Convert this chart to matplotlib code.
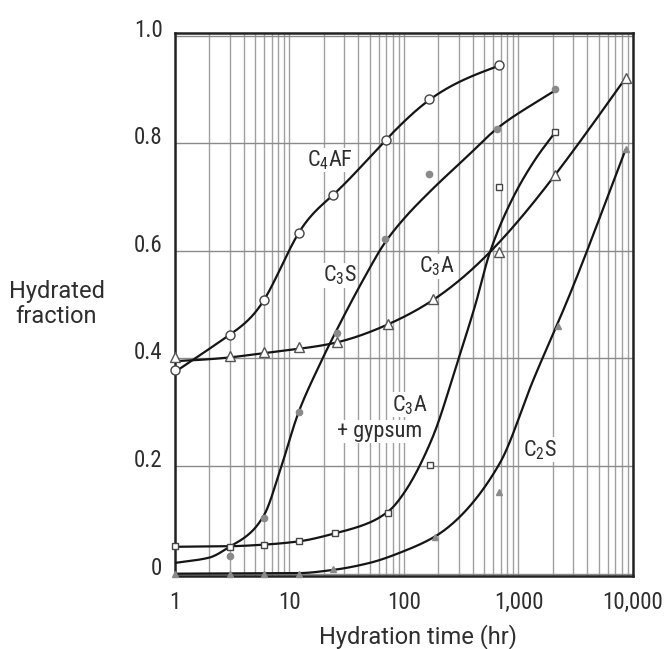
import numpy as np
import matplotlib
matplotlib.use("Agg")
import matplotlib.pyplot as plt
from matplotlib.ticker import FixedLocator, NullFormatter
from matplotlib.transforms import ScaledTranslation

plt.rcParams['font.family'] = ['Roboto Condensed', 'DejaVu Sans']
plt.rcParams['mathtext.fontset'] = 'custom'
plt.rcParams['mathtext.rm'] = 'Roboto Condensed'
plt.rcParams['mathtext.it'] = 'Roboto Condensed'

# measured points (hours, hydrated fraction)
c4af_t = [1, 3, 6, 12, 24, 70, 165, 672]
c4af_y = [0.379, 0.444, 0.509, 0.633, 0.704, 0.807, 0.882, 0.946]

c3s_t = [3, 6, 12, 26, 68, 166, 650, 2080]
c3s_y = [0.032, 0.103, 0.300, 0.447, 0.623, 0.742, 0.827, 0.900]

c3a_t = [1, 3, 6, 12, 26, 72, 180, 670, 2080, 8600]
c3a_y = [0.403, 0.405, 0.412, 0.421, 0.430, 0.464, 0.510, 0.598, 0.741, 0.922]

gyp_t = [1, 3, 6, 12, 25, 72, 170, 675, 2080]
gyp_y = [0.051, 0.049, 0.054, 0.060, 0.075, 0.112, 0.202, 0.719, 0.821]

c2s_t = [1, 3, 6, 12, 24, 186, 675, 2200, 8600]
c2s_y = [0.0, 0.0, 0.0, 0.0, 0.008, 0.069, 0.152, 0.461, 0.790]

# knots
c4af_ct = [1, 3, 6, 12, 24, 70, 165, 672]
c4af_cy = [0.375, 0.444, 0.509, 0.633, 0.704, 0.807, 0.880, 0.944]

c3s_ct = [1, 2, 3, 4.5, 6, 8.5, 12, 18, 25, 45, 68, 100, 168, 350, 672, 2080]
c3s_cy = [0.02, 0.03, 0.05, 0.075, 0.109, 0.20, 0.30, 0.385, 0.447, 0.55,
          0.615, 0.66, 0.71, 0.774, 0.83, 0.898]

c3a_ct = [1, 3, 6, 12, 26, 70, 180, 564, 2084, 8600]
c3a_cy = [0.395, 0.402, 0.41, 0.418, 0.43, 0.462, 0.509, 0.598, 0.741, 0.921]

gyp_ct = [1, 3, 6, 12, 25, 50, 75, 100, 175, 300, 420, 564, 900, 1400, 2080]
gyp_cy = [0.05, 0.051, 0.054, 0.06, 0.075, 0.095, 0.118, 0.15, 0.25, 0.40,
          0.50, 0.598, 0.70, 0.77, 0.82]

c2s_ct = [1, 12, 24, 50, 100, 186, 288, 685, 1346, 2818, 8600]
c2s_cy = [0.0, 0.001, 0.007, 0.02, 0.042, 0.069, 0.10, 0.205, 0.36, 0.52, 0.788]

xticks = [1, 10, 100, 1000, 10000]
xticklabels = ["1", "10", "100", "1,000", "10,000"]
yticks = [0, 0.2, 0.4, 0.6, 0.8, 1.0]
yticklabels = ["0", "0.2", "0.4", "0.6", "0.8", "1.0"]


def pchip(xk, yk, xs):
    xk = np.asarray(xk, float)
    yk = np.asarray(yk, float)
    h = np.diff(xk)
    d = np.diff(yk) / h
    n = len(xk)
    m = np.zeros(n)
    for i in range(1, n - 1):
        if d[i - 1] * d[i] > 0:
            w1 = 2 * h[i] + h[i - 1]
            w2 = h[i] + 2 * h[i - 1]
            m[i] = (w1 + w2) / (w1 / d[i - 1] + w2 / d[i])
    m[0] = d[0]
    m[-1] = d[-1]
    idx = np.clip(np.searchsorted(xk, xs) - 1, 0, n - 2)
    t = (xs - xk[idx]) / h[idx]
    return ((2 * t**3 - 3 * t**2 + 1) * yk[idx]
            + (t**3 - 2 * t**2 + t) * h[idx] * m[idx]
            + (-2 * t**3 + 3 * t**2) * yk[idx + 1]
            + (t**3 - t**2) * h[idx] * m[idx + 1])


def natural(xk, yk, xs):
    xk = np.asarray(xk, float)
    yk = np.asarray(yk, float)
    n = len(xk)
    h = np.diff(xk)
    A = np.zeros((n, n))
    r = np.zeros(n)
    A[0, 0] = A[-1, -1] = 1
    for i in range(1, n - 1):
        A[i, i - 1] = h[i - 1]
        A[i, i] = 2 * (h[i - 1] + h[i])
        A[i, i + 1] = h[i]
        r[i] = 3 * ((yk[i + 1] - yk[i]) / h[i] - (yk[i] - yk[i - 1]) / h[i - 1])
    c = np.linalg.solve(A, r)
    b = np.diff(yk) / h - h * (2 * c[:-1] + c[1:]) / 3
    d = np.diff(c) / (3 * h)
    idx = np.clip(np.searchsorted(xk, xs) - 1, 0, n - 2)
    t = xs - xk[idx]
    return yk[idx] + b[idx] * t + c[idx] * t**2 + d[idx] * t**3


def curve(ax, ct, cy, fn):
    lx = np.log10(ct)
    xs = np.linspace(lx[0], lx[-1], 500)
    ax.plot(10**xs, np.clip(fn(lx, cy, xs), 0, None), color="#151515",
            lw=1.6, zorder=3, solid_capstyle="round")


fig = plt.figure(figsize=(6.67, 6.49), dpi=100)
ax = fig.add_axes([175/667, 1-576/649, 458/667, 543/649])
ax.set_xscale("log")
ax.set_xlim(1, 10000)
ax.set_ylim(-0.0043, 1.005)

curve(ax, c4af_ct, c4af_cy, natural)
curve(ax, c3s_ct, c3s_cy, pchip)
curve(ax, c3a_ct, c3a_cy, natural)
curve(ax, gyp_ct, gyp_cy, pchip)
curve(ax, c2s_ct, c2s_cy, pchip)

mk = dict(zorder=4, linestyle="none", clip_on=False)
ax.plot(c4af_t, c4af_y, marker="o", ms=6.5, mfc="white", mec="#444444", mew=1, **mk)
ax.plot(c3s_t, c3s_y, marker="o", ms=4.5, mfc="#8a8a8a", mec="#8a8a8a", **mk)
ax.plot(c3a_t, c3a_y, marker="^", ms=7, mfc="white", mec="#555555", mew=1, **mk)
ax.plot(gyp_t, gyp_y, marker="s", ms=5, mfc="white", mec="#444444", mew=1, **mk)
ax.plot(c2s_t, c2s_y, marker="^", ms=4, mfc="#8a8a8a", mec="#8a8a8a", **mk)

# grid
ax.xaxis.set_minor_locator(FixedLocator(
    [m * 10**e for e in range(0, 4) for m in range(2, 10)]))
ax.xaxis.set_minor_formatter(NullFormatter())
ax.set_xticks(xticks)
ax.set_xticklabels(xticklabels)
ax.set_yticks(yticks)
ax.set_yticklabels(yticklabels)
ax.grid(True, which="both", axis="x", color="#a0a0a0", lw=1.0)
ax.grid(True, which="major", axis="y", color="#8a8a8a", lw=1.0)
ax.set_axisbelow(True)
ax.tick_params(which="both", length=0, labelsize=16.5, colors="#2e2e2e")
ax.tick_params(axis="y", pad=9)
ax.tick_params(axis="x", pad=11)
# y labels sit a little above their gridlines
for t in ax.get_yticklabels():
    t.set_transform(t.get_transform() + ScaledTranslation(0, 8/100, fig.dpi_scale_trans))

for s in ax.spines.values():
    s.set_linewidth(1.8)
    s.set_color("#222222")

lab = dict(fontsize=16, color="#2e2e2e", ha="center", va="center", zorder=5)
bg = dict(facecolor="white", edgecolor="none", pad=0.5)
ax.text(22.6, 0.769, r"$\mathrm{C_4AF}$", bbox=bg, **lab)
ax.text(27.6, 0.555, r"$\mathrm{C_3S}$", bbox=bg, **lab)
ax.text(193, 0.571, r"$\mathrm{C_3A}$", bbox=bg, **lab)
ax.text(112, 0.314, r"$\mathrm{C_3A}$", bbox=bg, **lab)
ax.text(61.6, 0.264, "+ gypsum", bbox=bg, **lab)
ax.text(1540, 0.230, r"$\mathrm{C_2S}$", bbox=bg, **lab)

axlab = dict(fontsize=17, color="#2e2e2e", ha="center", va="baseline",
             family=["Roboto", "DejaVu Sans"])
fig.text(57/667, 1-298.5/649, "Hydrated", **axlab)
fig.text(56/667, 1-323/649, "fraction", **axlab)
fig.text(418/667, 1-643/649, "Hydration time (hr)", **axlab)

fig.savefig("out.png", dpi=100)
